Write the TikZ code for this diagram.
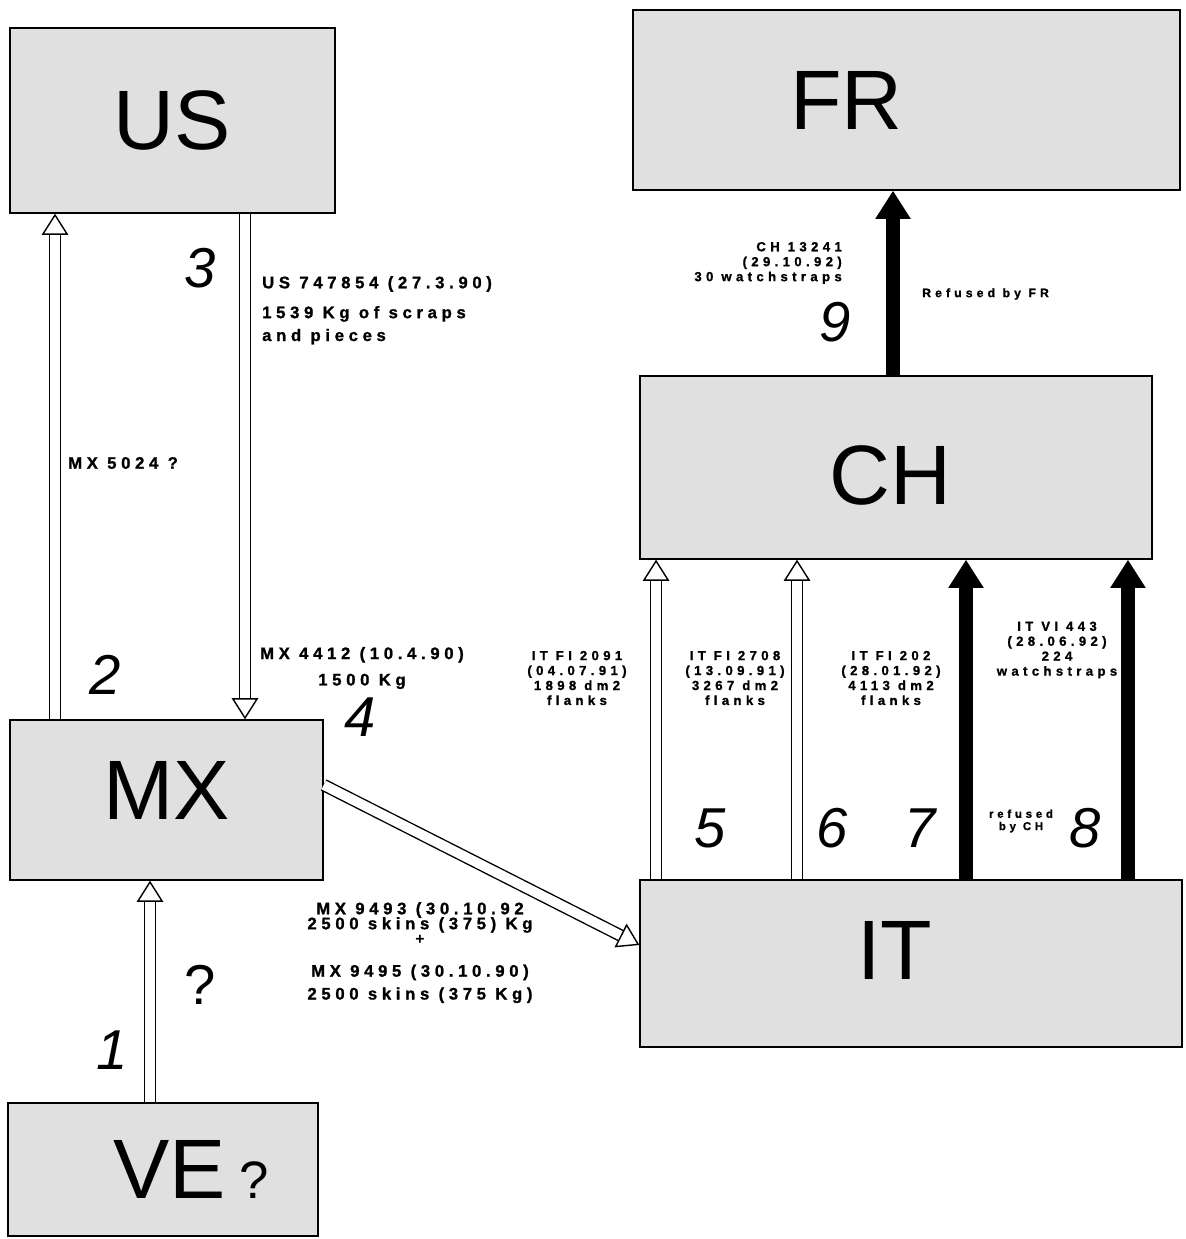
\documentclass[tikz,border=0pt]{standalone}
\usepackage{fontspec}
\setmainfont{Liberation Sans}
\newfontfamily\lblfont[LetterSpace=28,BoldFeatures={FakeBold=1.2}]{Liberation Sans}
\newfontfamily\smallfont[LetterSpace=33,BoldFeatures={FakeBold=1.2}]{Liberation Sans}
\usetikzlibrary{arrows.meta,positioning,calc}

\begin{document}
\begin{tikzpicture}[x=0.02cm,y=-0.02cm,
  cbox/.style={draw,line width=0.8pt,fill=black!12,inner sep=0pt},
  cname/.style={font=\fontsize{48}{48}\selectfont},
  stepno/.style={font=\fontsize{32}{32}\selectfont\itshape},
  lbl/.style={font=\lblfont\bfseries\fontsize{9.5}{13}\selectfont},
  smalllbl/.style={font=\smallfont\bfseries\fontsize{7.5}{8.5}\selectfont,align=center},
  hol/.style={double,double distance=5.5pt,line width=0.8pt,
    -{Triangle[open,length=12pt,width=15pt,fill=white]}},
  blk/.style={line width=8pt,-{Triangle[length=16pt,width=19pt]}}]
\useasboundingbox (0,0) rectangle (1185,1239);

% country boxes
\node[cbox,minimum width=6.5cm,minimum height=3.7cm] (us) at (172.5,120.5) {};
\node[cbox,minimum width=10.94cm,minimum height=3.6cm] (fr) at (906.5,100) {};
\node[cbox,minimum width=10.24cm,minimum height=3.66cm] (ch) at (896,467.5) {};
\node[cbox,minimum width=6.26cm,minimum height=3.2cm] (mx) at (166.5,800) {};
\node[cbox,minimum width=10.84cm,minimum height=3.34cm] (it) at (911,963.5) {};
\node[cbox,minimum width=6.2cm,minimum height=2.66cm] (ve) at (163,1169.5) {};

\node[cname] (usname) at (us.center) {US};
\node[cname] (frname) at ([xshift=-1.2cm]fr.center) {FR};
\node[cname] (chname) at ([shift={(-0.12cm,-0.15cm)}]ch.center) {CH};
\node[cname] (mxname) at ([yshift=0.2cm]mx.center) {MX};
\node[cname] (itname) at ([shift={(-0.32cm,0.27cm)}]it.center) {IT};
\node[cname] (vename) at ([xshift=0.56cm]ve.center) {VE\,{\fontsize{30}{30}\selectfont ?}};

% arrow ends
\coordinate (a1) at ([xshift=-0.26cm]ve.north);
\coordinate (a2) at ([xshift=-2.23cm]mx.north);
\coordinate (a3) at ([xshift=1.45cm]us.south);
\coordinate (a5) at ([xshift=-5.1cm]it.north);
\coordinate (a6) at ([xshift=-2.28cm]it.north);
\coordinate (a7) at ([xshift=1.1cm]it.north);
\coordinate (a8) at ([xshift=4.34cm]it.north);
\coordinate (a9) at ([xshift=-0.06cm]ch.north);

% flows
\draw[hol] (a1) -- (a1 |- mx.south);
\draw[hol] (a2) -- (a2 |- us.south);
\draw[hol] (a3) -- (a3 |- mx.north);
\draw[hol] ([yshift=0.3cm]mx.east) -- ([yshift=0.37cm]it.west);
\draw[hol] (a5) -- (a5 |- ch.south);
\draw[hol] (a6) -- (a6 |- ch.south);
\draw[blk] (a7) -- (a7 |- ch.south);
\draw[blk] (a8) -- (a8 |- ch.south);
\draw[blk] (a9) -- (a9 |- fr.south);

% step numbers
\node[stepno] (n1) at (112,1050) {1};
\node[stepno] (n2) at (105,675) {2};
\node[stepno] (n3) at (200,268) {3};
\node[stepno] (n4) at (360,717) {4};
\node[stepno] (n5) at (710,828) {5};
\node[stepno] (n6) at (832,828) {6};
\node[stepno] (n7) at (920,828) {7};
\node[stepno] (n8) at (1085,828) {8};
\node[stepno] (n9) at (835,322) {9};
\node[font=\fontsize{32}{32}\selectfont] (q1) at (200,985) {?};

% documents
\node[lbl,anchor=west] (l2) at (62,463) {MX 5024 ?};
\node[lbl,anchor=north west,align=left] (l3) at (256,270)
  {US 747854 (27.3.90)\\[4pt] 1539 Kg of scraps\\ and pieces};
\node[lbl,align=center] (l4) at (362,668) {MX 4412 (10.4.90)\\[2pt] 1500 Kg};
\node[lbl,align=center,anchor=north] (lit) at (420,896)
  {MX 9493 (30.10.92\\[-4.5pt] 2500 skins (375) Kg\\[14pt]
   MX 9495 (30.10.90)\\ 2500 skins (375 Kg)};
\node[font=\bfseries\fontsize{9}{9}\selectfont,inner sep=0pt] (plus) at (420,940) {+};

\node[smalllbl] (l5) at (577,678) {IT FI 2091\\(04.07.91)\\1898 dm2\\flanks};
\node[smalllbl] (l6) at (735,678) {IT FI 2708\\(13.09.91)\\3267 dm2\\flanks};
\node[smalllbl] (l7) at (891,678) {IT FI 202\\(28.01.92)\\4113 dm2\\flanks};
\node[smalllbl] (l8) at (1057,650) {IT VI 443\\(28.06.92)\\224\\watchstraps};
\node[smalllbl,align=right,anchor=east] (l9) at (848,263)
  {CH 13241\\(29.10.92)\\30 watchstraps};
\node[smalllbl,anchor=west,font=\smallfont\bfseries\fontsize{7}{8}\selectfont] (rfr) at (916,294) {Refused by FR};
\node[smalllbl,font=\smallfont\bfseries\fontsize{6.5}{7}\selectfont] (rch) at (1021,821) {refused\\by CH};
\end{tikzpicture}
\end{document}
